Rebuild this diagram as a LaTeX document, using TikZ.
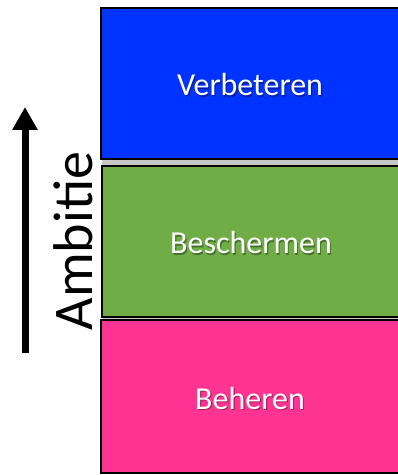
\documentclass[tikz,border=0pt]{standalone}
\usepackage{fontspec}
\setmainfont{Carlito}
\usetikzlibrary{arrows.meta}
\definecolor{vblue}{HTML}{0033FF}
\definecolor{bgreen}{HTML}{70AD47}
\definecolor{bpink}{HTML}{FF3391}
\tikzset{
  layer/.style={draw=black, line width=1.5pt, minimum width=300pt, minimum height=151pt, anchor=south west, inner sep=0pt},
  shadowbox/.style={fill=black!22, draw=none, minimum width=300pt, minimum height=151pt, anchor=south west, inner sep=0pt},
  lbl/.style={text=white, font=\fontsize{32}{38}\selectfont},
  lblshadow/.style={text=black, opacity=0.35, font=\fontsize{32}{38}\selectfont},
}
\begin{document}
\begin{tikzpicture}[x=1pt,y=1pt]
\useasboundingbox (0,0) rectangle (398,475);
\begin{scope}
\clip (0,0) rectangle (398,475);
% shadows
\node[shadowbox] (s1) at (102,310) {};
\node[shadowbox] (s2) at (103,152) {};
% boxes
\node[layer, fill=vblue] (verb) at (100,315) {};
\node[layer, fill=bgreen] (besch) at (101,157) {};
\node[layer, fill=bpink, minimum height=153pt] (beh) at (100,1) {};
\end{scope}
% labels
\node[lblshadow] at (251.2,388.8) {Verbeteren};
\node[lbl] (t1) at (250,390) {Verbeteren};
\node[lblshadow] at (252.2,230.8) {Beschermen};
\node[lbl] (t2) at (251,232) {Beschermen};
\node[lblshadow] at (251.2,75.8) {Beheren};
\node[lbl] (t3) at (250,77) {Beheren};
% arrow
\coordinate (abot) at (25,122);
\coordinate (atop) at (25,368);
\draw[line width=7pt, -{Triangle[length=23pt, width=24pt]}] (abot) -- (atop);
\node[rotate=90, font=\fontsize{56}{60}\selectfont] (amb) at (73,234) {Ambitie};
\end{tikzpicture}
\end{document}
